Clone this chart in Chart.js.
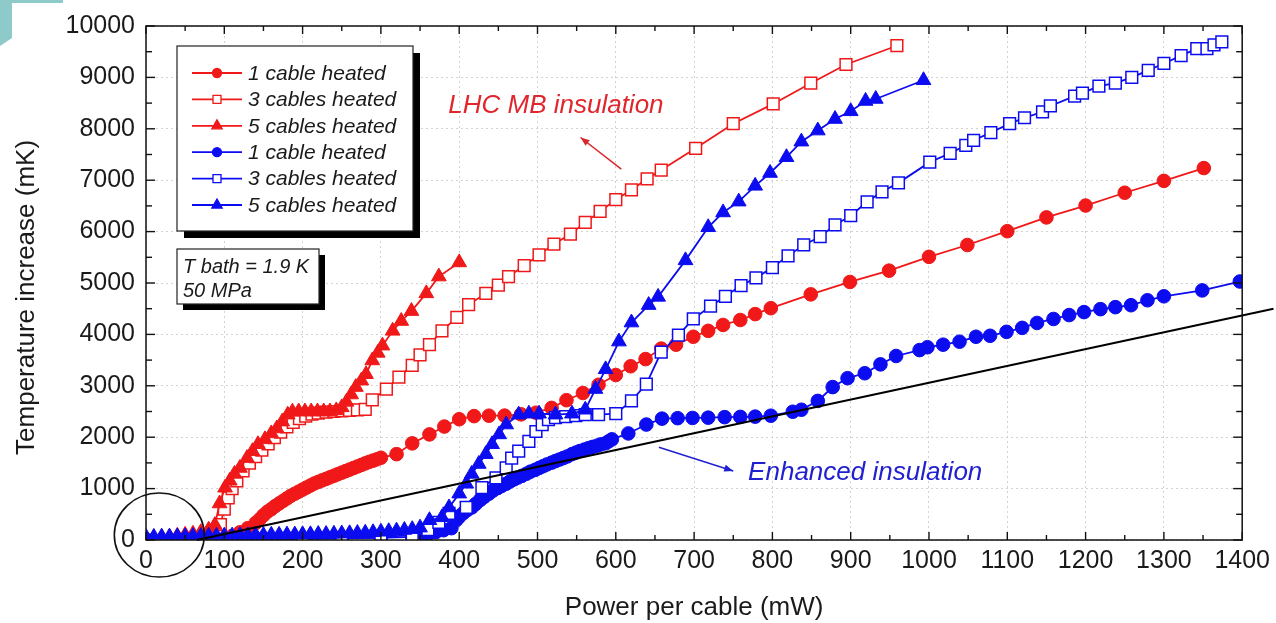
<!DOCTYPE html>
<html>
<head>
<meta charset="utf-8">
<title>Temperature increase vs power per cable</title>
<script src="https://cdn.jsdelivr.net/npm/chart.js@4.4.0/dist/chart.umd.min.js"></script>
<style>
  html, body { margin: 0; padding: 0; background: #fff; }
  canvas { display: block; }
</style>
</head>
<body>
<canvas id="tempChart" width="1276" height="623"></canvas>
<script>
// Data (x = power per cable in mW, y = temperature increase in mK)

// LHC MB insulation (red)
const red1X = [100,110,120,130,140,145,150,155,160,165,170,175,180,185,190,195,200,205,210,215,220,225,230,235,240,245,250,255,260,265,270,275,280,285,290,295,300,320,340,362,381,400,419,438,458,479,498,518,537,558,578,600,619,638,658,677,699,718,737,759,778,798,849,899,949,1000,1049,1100,1150,1200,1250,1300,1351];
const red1Y = [40,80,150,230,330,400,480,550,600,660,710,760,810,860,900,940,980,1020,1060,1100,1130,1160,1190,1220,1250,1280,1310,1340,1370,1400,1430,1460,1490,1520,1545,1570,1600,1670,1880,2054,2207,2350,2410,2418,2420,2445,2476,2570,2720,2860,3020,3210,3380,3520,3724,3800,3954,4069,4184,4280,4395,4510,4779,5020,5240,5509,5739,6008,6276,6507,6756,6987,7236];

const red3X = [90,95,100,105,110,116,124,132,140,148,156,164,172,180,188,196,204,212,220,230,240,250,260,270,280,289,307,323,340,350,362,378,397,412,434,450,463,483,502,521,542,561,580,600,620,640,658,702,750,801,849,894,959];
const red3Y = [150,300,600,820,1000,1150,1344,1497,1620,1750,1870,1990,2100,2200,2290,2360,2410,2450,2470,2490,2500,2510,2520,2530,2540,2726,2937,3167,3397,3600,3800,4069,4330,4580,4798,4960,5125,5336,5547,5758,5950,6180,6392,6622,6814,7025,7198,7620,8100,8484,8887,9251,9616];

const red5X = [0,10,20,30,40,50,60,70,80,88,94,101,107,113,120,129,136,143,152,160,167,174,181,187,195,203,211,219,227,235,243,250,256,262,268,275,281,289,296,302,315,326,339,358,374,400];
const red5Y = [30,40,50,60,80,100,120,150,200,290,710,1017,1152,1286,1401,1593,1727,1862,1958,2073,2169,2303,2438,2495,2500,2500,2500,2500,2500,2500,2520,2580,2687,2830,2975,3100,3225,3493,3640,3781,4069,4260,4453,4798,5125,5400];

// Enhanced insulation (blue)
const blue1X = [0,50,100,150,200,250,300,340,350,360,370,380,390,396,400,405,410,416,421,427,432,438,443,449,454,460,465,470,475,480,486,491,497,502,507,512,518,523,528,533,538,544,549,554,560,565,570,576,581,587,591,595,616,639,659,679,698,718,739,759,778,798,826,837,858,877,896,918,938,958,988,998,1018,1039,1060,1078,1099,1119,1138,1159,1179,1198,1219,1238,1258,1279,1300,1349,1397];
const blue1Y = [0,5,10,15,20,30,40,60,80,110,150,190,230,384,450,520,580,633,700,780,840,902,960,1010,1050,1094,1140,1180,1215,1248,1290,1330,1365,1401,1435,1470,1505,1536,1565,1595,1625,1670,1700,1730,1760,1785,1810,1835,1860,1881,1920,1958,2073,2246,2361,2370,2375,2380,2390,2395,2400,2418,2495,2534,2706,2975,3148,3244,3417,3580,3695,3750,3800,3858,3954,3973,4050,4127,4223,4300,4376,4434,4491,4530,4568,4664,4741,4856,5029];

const blue3X = [0,50,100,150,200,250,300,340,360,374,387,409,429,447,460,467,476,489,498,506,514,523,536,549,561,578,600,620,639,658,680,699,721,740,760,779,800,820,840,861,880,900,921,940,961,1001,1027,1047,1057,1079,1103,1122,1145,1155,1186,1196,1217,1238,1259,1280,1300,1322,1342,1355,1364,1374];
const blue3Y = [0,5,10,15,20,30,50,100,200,345,518,633,1017,1209,1401,1593,1727,1919,2111,2246,2342,2380,2399,2418,2438,2438,2457,2706,3033,3656,3985,4300,4550,4741,4950,5100,5300,5528,5740,5900,6130,6310,6580,6775,6948,7351,7524,7678,7774,7927,8100,8215,8330,8445,8637,8695,8829,8887,9002,9136,9271,9424,9559,9559,9635,9693];

const blue5X = [0,10,20,30,40,50,60,70,80,90,100,110,120,130,140,150,160,170,180,190,200,210,220,230,240,250,260,270,280,290,300,310,320,330,340,350,362,378,387,400,409,416,425,434,442,451,460,476,489,502,523,544,561,574,587,604,620,642,654,689,718,737,757,778,797,818,837,858,880,900,919,932,993];
const blue5Y = [60,60,65,65,70,70,75,75,80,80,85,85,90,90,95,95,100,100,105,105,110,110,115,115,120,125,130,135,140,150,160,170,180,195,210,240,384,441,633,902,1094,1286,1478,1670,1862,2054,2246,2438,2457,2457,2438,2457,2534,2937,3320,3860,4230,4570,4730,5440,6084,6372,6583,6890,7140,7447,7750,7965,8190,8340,8541,8580,8944];

// straight reference line
const fitX = [65, 1440];
const fitY = [0, 4500];

const legendLabels = ['1 cable heated', '3 cables heated', '5 cables heated', '1 cable heated', '3 cables heated', '5 cables heated'];

const xTicks = { min: 0, max: 1400, step: 100, minor: 50 };
const yTicks = { min: 0, max: 10000, step: 1000, minor: 500 };

const RED = '#f01818';
const BLUE = '#0c0cf0';
const FONT = '"Liberation Sans", Arial, sans-serif';

function pts(xs, ys) {
    return xs.map((x, i) => ({ x: x, y: ys[i] }));
}

function series(label, xs, ys, color, style, open, order) {
    const radius = style === 'circle' ? 6.8 : (style === 'rect' ? 8.3 : 8.5);
    return {
        label: label,
        data: pts(xs, ys),
        borderColor: color,
        backgroundColor: color,
        borderWidth: 1.8,
        pointStyle: style,
        pointRadius: radius,
        pointHoverRadius: radius,
        pointBackgroundColor: open ? '#ffffff' : color,
        pointBorderColor: color,
        pointBorderWidth: open ? 1.5 : 1,
        tension: 0,
        order: order,
        inLegend: true
    };
}

const datasets = [
    series(legendLabels[0], red1X, red1Y, RED, 'circle', false, 6),
    series(legendLabels[1], red3X, red3Y, RED, 'rect', true, 5),
    series(legendLabels[2], red5X, red5Y, RED, 'triangle', false, 4),
    series(legendLabels[3], blue1X, blue1Y, BLUE, 'circle', false, 3),
    series(legendLabels[4], blue3X, blue3Y, BLUE, 'rect', true, 2),
    series(legendLabels[5], blue5X, blue5Y, BLUE, 'triangle', false, 1),
    {
        label: 'fit',
        data: pts(fitX, fitY),
        borderColor: '#000',
        borderWidth: 2,
        pointRadius: 0,
        clip: false,
        order: 0
    }
];

// little helpers for the hand-drawn bits
function line(ctx, x1, y1, x2, y2) {
    ctx.beginPath();
    ctx.moveTo(x1, y1);
    ctx.lineTo(x2, y2);
    ctx.stroke();
}

function arrow(ctx, x1, y1, x2, y2, color) {
    ctx.save();
    ctx.strokeStyle = color;
    ctx.fillStyle = color;
    ctx.lineWidth = 1.5;
    line(ctx, x1, y1, x2, y2);
    const a = Math.atan2(y2 - y1, x2 - x1);
    const len = 9, w = 3.5;
    ctx.beginPath();
    ctx.moveTo(x2, y2);
    ctx.lineTo(x2 - len * Math.cos(a) + w * Math.sin(a), y2 - len * Math.sin(a) - w * Math.cos(a));
    ctx.lineTo(x2 - len * Math.cos(a) - w * Math.sin(a), y2 - len * Math.sin(a) + w * Math.cos(a));
    ctx.closePath();
    ctx.fill();
    ctx.restore();
}

function marker(ctx, style, x, y, fill, stroke) {
    ctx.beginPath();
    if (style === 'circle') {
        ctx.arc(x, y, 4.5, 0, Math.PI * 2);
    } else if (style === 'rect') {
        ctx.rect(x - 4, y - 4, 8, 8);
    } else {
        const r = 6;
        ctx.moveTo(x, y - r);
        ctx.lineTo(x + r * 0.866, y + r * 0.5);
        ctx.lineTo(x - r * 0.866, y + r * 0.5);
        ctx.closePath();
    }
    ctx.fillStyle = fill;
    ctx.fill();
    ctx.strokeStyle = stroke;
    ctx.lineWidth = 1.3;
    ctx.stroke();
}

function shadowBox(ctx, x, y, w, h, off) {
    ctx.fillStyle = '#000';
    ctx.fillRect(x + off, y + off, w, h);
    ctx.fillStyle = '#fff';
    ctx.fillRect(x, y, w, h);
    ctx.strokeStyle = '#222';
    ctx.lineWidth = 1.2;
    ctx.strokeRect(x, y, w, h);
}

const decor = {
    id: 'decor',
    beforeDraw(chart) {
        const ctx = chart.ctx;
        ctx.save();
        ctx.fillStyle = '#fff';
        ctx.fillRect(0, 0, chart.width, chart.height);
        // teal corner of the slide
        ctx.fillStyle = '#8ecaca';
        ctx.beginPath();
        ctx.moveTo(0, 0);
        ctx.lineTo(63, 0);
        ctx.lineTo(63, 3);
        ctx.lineTo(12, 3);
        ctx.lineTo(12, 38);
        ctx.lineTo(0, 46);
        ctx.closePath();
        ctx.fill();
        ctx.restore();
    },
    afterDatasetsDraw(chart) {
        const ctx = chart.ctx;
        const a = chart.chartArea;
        const xs = chart.scales.x, ys = chart.scales.y;
        ctx.save();
        ctx.strokeStyle = '#111';
        ctx.lineWidth = 1.5;
        ctx.strokeRect(a.left, a.top, a.right - a.left, a.bottom - a.top);
        // inward ticks on all four sides
        ctx.lineWidth = 1.4;
        for (let v = xTicks.min; v <= xTicks.max; v += xTicks.minor) {
            const px = xs.getPixelForValue(v);
            const len = v % xTicks.step === 0 ? 8 : 5;
            line(ctx, px, a.bottom, px, a.bottom - len);
            line(ctx, px, a.top, px, a.top + len);
        }
        for (let v = yTicks.min; v <= yTicks.max; v += yTicks.minor) {
            const py = ys.getPixelForValue(v);
            const len = v % yTicks.step === 0 ? 9 : 6;
            line(ctx, a.left, py, a.left + len, py);
            line(ctx, a.right, py, a.right - len, py);
        }
        ctx.restore();
    },
    afterDraw(chart) {
        const ctx = chart.ctx;
        const xs = chart.scales.x, ys = chart.scales.y;
        ctx.save();

        // legend box
        shadowBox(ctx, 177, 46, 236, 185, 7);
        const items = chart.data.datasets.filter(d => d.inLegend);
        ctx.font = 'italic 21px ' + FONT;
        ctx.textBaseline = 'middle';
        items.forEach((d, i) => {
            const y = 73 + i * 26.4;
            ctx.strokeStyle = d.borderColor;
            ctx.lineWidth = 1.8;
            line(ctx, 192, y, 242, y);
            marker(ctx, d.pointStyle, 217, y, d.pointBackgroundColor, d.borderColor);
            ctx.fillStyle = '#1a1a1a';
            ctx.font = 'italic 21px ' + FONT;
            ctx.fillText(d.label, 248, y + 1);
        });

        // conditions box
        shadowBox(ctx, 177, 249, 142, 55, 6);
        ctx.fillStyle = '#1a1a1a';
        ctx.font = 'italic 20px ' + FONT;
        ctx.fillText('T bath = 1.9 K', 183, 267);
        ctx.fillText('50 MPa', 183, 291);

        // annotations
        ctx.font = 'italic 26px ' + FONT;
        ctx.fillStyle = '#e0262c';
        ctx.fillText('LHC MB insulation', xs.getPixelForValue(386), ys.getPixelForValue(8440));
        arrow(ctx, xs.getPixelForValue(607), ys.getPixelForValue(7217),
              xs.getPixelForValue(555), ys.getPixelForValue(7831), '#d8262c');

        ctx.fillStyle = '#2020d0';
        ctx.fillText('Enhanced insulation', xs.getPixelForValue(769), ys.getPixelForValue(1300));
        arrow(ctx, xs.getPixelForValue(655), ys.getPixelForValue(1804),
              xs.getPixelForValue(750), ys.getPixelForValue(1344), '#2020d0');

        // circle around the origin
        ctx.strokeStyle = '#111';
        ctx.lineWidth = 1.6;
        ctx.beginPath();
        ctx.ellipse(xs.getPixelForValue(17), ys.getPixelForValue(96), 45, 42, 0, 0, Math.PI * 2);
        ctx.stroke();

        ctx.restore();
    }
};

const ctx = document.getElementById('tempChart').getContext('2d');

const chart = new Chart(ctx, {
    type: 'line',
    data: { datasets: datasets },
    options: {
        responsive: false,
        devicePixelRatio: 1,
        animation: false,
        events: [],
        layout: { padding: { top: 19, right: 31, left: 0, bottom: 0 } },
        plugins: {
            legend: { display: false },
            tooltip: { enabled: false }
        },
        scales: {
            x: {
                type: 'linear',
                min: xTicks.min,
                max: xTicks.max,
                afterFit: (s) => { s.height = 83; },
                ticks: {
                    stepSize: xTicks.step,
                    autoSkip: false,
                    maxRotation: 0,
                    padding: 6,
                    color: '#1a1a1a',
                    font: { family: FONT, size: 25 },
                    callback: (v) => String(v)
                },
                grid: { color: '#d2d2d2', lineWidth: 1, drawTicks: false },
                border: { display: false, dash: [2, 3] },
                title: {
                    display: true,
                    text: 'Power per cable (mW)',
                    color: '#1a1a1a',
                    font: { family: FONT, size: 26 },
                    padding: { top: 0, bottom: 0 }
                }
            },
            y: {
                type: 'linear',
                min: yTicks.min,
                max: yTicks.max,
                afterFit: (s) => { s.width = 146; },
                ticks: {
                    stepSize: yTicks.step,
                    padding: 11,
                    color: '#1a1a1a',
                    font: { family: FONT, size: 25 },
                    callback: (v) => String(v)
                },
                grid: { color: '#d2d2d2', lineWidth: 1, drawTicks: false },
                border: { display: false, dash: [2, 3] },
                title: {
                    display: true,
                    text: 'Temperature increase (mK)    ',
                    color: '#1a1a1a',
                    font: { family: FONT, size: 26 },
                    padding: { top: 11, bottom: 0 }
                }
            }
        }
    },
    plugins: [decor]
});
</script>
</body>
</html>
